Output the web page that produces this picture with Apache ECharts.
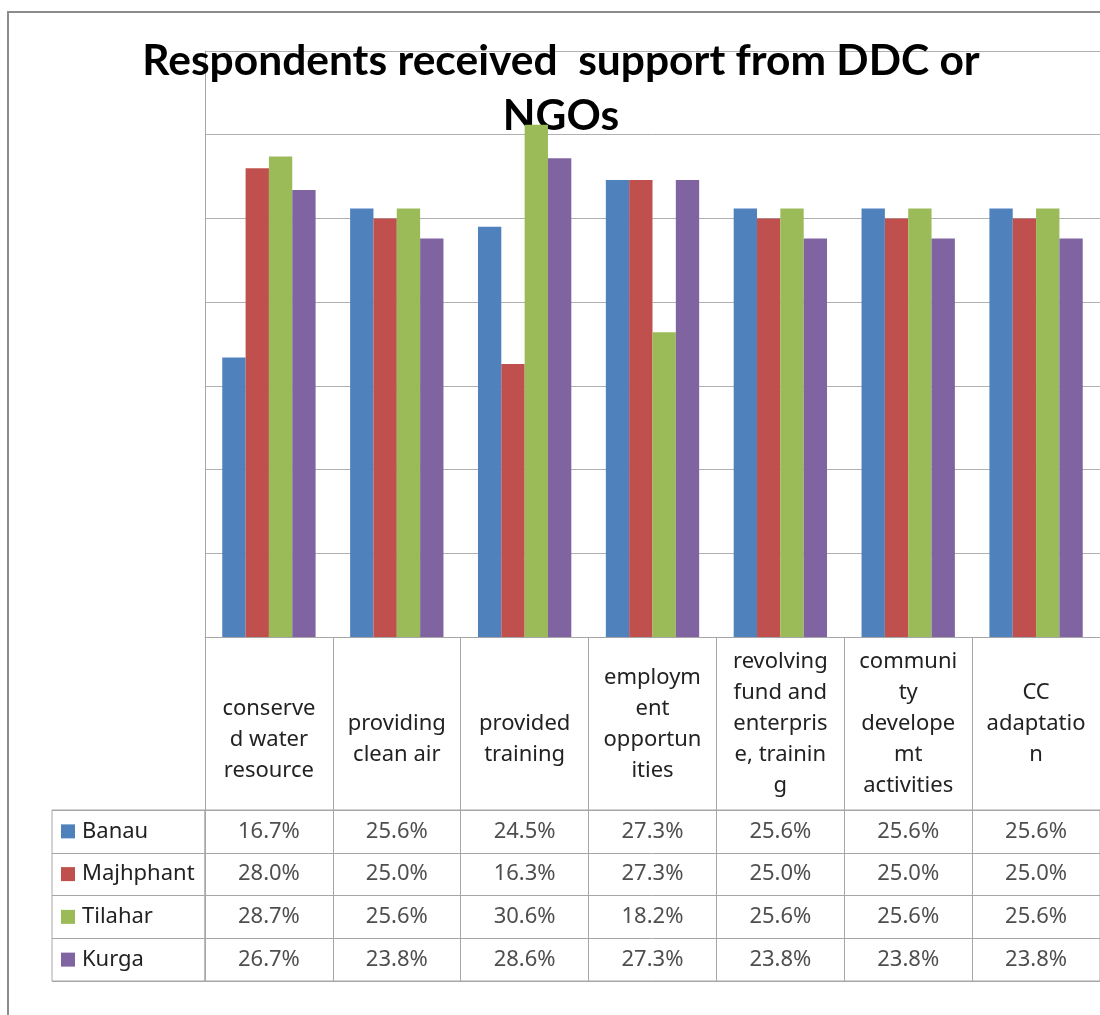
<!DOCTYPE html>
<html>
<head>
<meta charset="utf-8">
<script src="https://cdn.jsdelivr.net/npm/echarts@6/dist/echarts.min.js"></script>
<style>
  html, body { margin: 0; padding: 0; background: #ffffff; }
  #chart { width: 1100px; height: 1015px; }
</style>
</head>
<body>
<div id="chart"></div>
<script>
// Chart text
const chartTitle = 'Respondents received  support from DDC or\nNGOs';

// Category tick labels (wrapped the way the data table shows them)
const categories = [
  '\nconserve\nd water\nresource',
  '\nproviding\nclean air',
  '\nprovided\ntraining',
  'employm\nent\nopportun\nities',
  'revolving\nfund and\nenterpris\ne, trainin\ng',
  'communi\nty\ndevelope\nmt\nactivities',
  'CC\nadaptatio\nn'
];

// Series (share of respondents, %)
const seriesNames = ['Banau', 'Majhphant', 'Tilahar', 'Kurga'];
const banau     = [16.7, 25.6, 24.5, 27.3, 25.6, 25.6, 25.6];
const majhphant = [28.0, 25.0, 16.3, 27.3, 25.0, 25.0, 25.0];
const tilahar   = [28.7, 25.6, 30.6, 18.2, 25.6, 25.6, 25.6];
const kurga     = [26.7, 23.8, 28.6, 27.3, 23.8, 23.8, 23.8];
const seriesValues = [banau, majhphant, tilahar, kurga];

// Value axis ticks
const yMin = 0;
const yMax = 35;
const yStep = 5;

const colors = ['#4F81BD', '#C0504D', '#9BBB59', '#8064A2'];
const lineGray = '#a6a6a6';
const textColor = '#222222';
const bodyFont = 'Noto Sans';

// Cells of the data table under the plot: [categoryIndex, seriesIndex, value]
const tableCells = [];
seriesValues.forEach((row, i) => row.forEach((v, j) => tableCells.push([j, i, v])));

// Legend-column labels: coloured square + series name
const legendRich = { t: { fontFamily: bodyFont, fontSize: 22, color: textColor, padding: [0, 0, 0, 7] } };
colors.forEach((c, i) => { legendRich['s' + i] = { width: 14, height: 14, backgroundColor: c }; });

const chart = echarts.init(document.getElementById('chart'), null, { renderer: 'canvas' });

const option = {
  backgroundColor: '#ffffff',
  animation: false,
  title: {
    text: chartTitle,
    left: 561,
    top: 34,
    padding: 0,
    textAlign: 'center',
    z: 1,
    textStyle: {
      fontFamily: 'Lato',
      fontWeight: 'bold',
      fontSize: 42.5,
      lineHeight: 55,
      color: '#000000'
    }
  },
  graphic: [{
    type: 'rect',
    silent: true,
    z: -10,
    shape: { x: 8, y: 12, width: 1200, height: 1100 },
    style: { fill: 'none', stroke: '#8c8c8c', lineWidth: 2 }
  }],
  grid: [
    // bar plot
    { left: 205, top: 51, width: 900, height: 586 },
    // value table
    { left: 205, top: 810, width: 900, height: 171, show: true, borderColor: lineGray, borderWidth: 1, backgroundColor: 'transparent' },
    // legend column of the table
    { left: 52, top: 810, width: 153, height: 171, show: true, borderColor: lineGray, borderWidth: 1, backgroundColor: 'transparent' }
  ],
  xAxis: [
    {
      type: 'category', gridIndex: 0, data: categories, boundaryGap: true,
      axisLine: { show: true, lineStyle: { color: lineGray, width: 1 } },
      axisTick: { show: true, interval: 0, length: 173, lineStyle: { color: lineGray, width: 1 } },
      axisLabel: {
        interval: 0, margin: 87, verticalAlign: 'middle', align: 'center',
        fontFamily: bodyFont, fontSize: 22, lineHeight: 31, color: textColor
      },
      splitLine: { show: false }
    },
    {
      type: 'category', gridIndex: 1, data: categories, boundaryGap: true,
      axisLine: { show: false }, axisTick: { show: false }, axisLabel: { show: false },
      splitLine: { show: true, interval: 0, lineStyle: { color: lineGray, width: 1 } }
    },
    { type: 'value', gridIndex: 2, show: false }
  ],
  yAxis: [
    {
      type: 'value', gridIndex: 0, min: yMin, max: yMax, interval: yStep,
      axisLabel: { show: false },
      axisLine: { show: true, lineStyle: { color: lineGray, width: 1 } },
      axisTick: { show: false },
      splitLine: { show: true, lineStyle: { color: '#b0b0b0', width: 1 } }
    },
    {
      type: 'category', gridIndex: 1, data: seriesNames, inverse: true,
      axisLine: { show: false }, axisTick: { show: false }, axisLabel: { show: false },
      splitLine: { show: true, interval: 0, lineStyle: { color: lineGray, width: 1 } }
    },
    {
      type: 'category', gridIndex: 2, data: seriesNames, inverse: true,
      axisLine: { show: false }, axisTick: { show: false },
      splitLine: { show: true, interval: 0, lineStyle: { color: lineGray, width: 1 } },
      axisLabel: {
        inside: true, margin: 9, align: 'left', verticalAlign: 'middle',
        formatter: (name, idx) => '{s' + idx + '|}{t|' + name + '}',
        rich: legendRich
      }
    }
  ],
  series: seriesValues.map((vals, i) => ({
    name: seriesNames[i],
    type: 'bar',
    xAxisIndex: 0,
    yAxisIndex: 0,
    data: vals,
    barGap: '0%',
    barCategoryGap: '27%',
    z: 2,
    itemStyle: { color: colors[i] }
  })).concat([{
    name: 'table',
    type: 'scatter',
    xAxisIndex: 1,
    yAxisIndex: 1,
    data: tableCells,
    symbolSize: 1,
    silent: true,
    itemStyle: { color: 'rgba(0,0,0,0)' },
    label: {
      show: true,
      position: 'inside',
      formatter: p => p.value[2].toFixed(1) + '%',
      fontFamily: bodyFont,
      fontSize: 22,
      color: textColor
    }
  }])
};

chart.setOption(option);
</script>
</body>
</html>
